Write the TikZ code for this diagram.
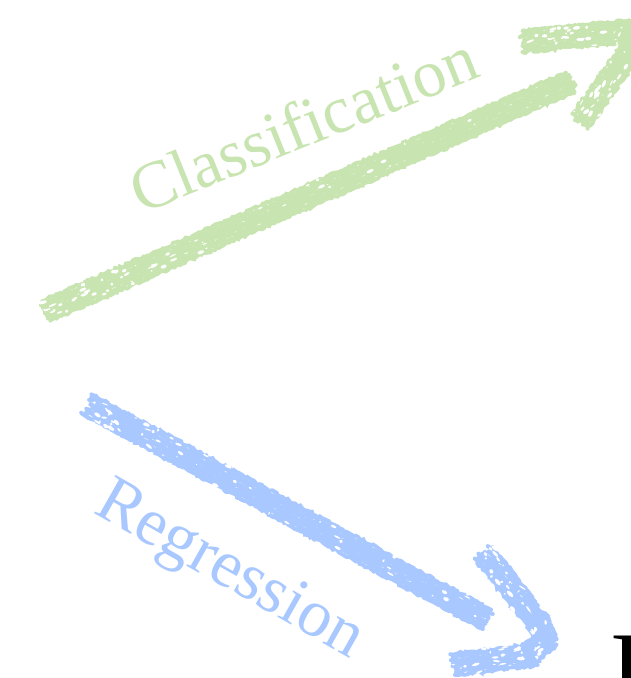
\documentclass[tikz,border=0pt]{standalone}
\usepackage{fontspec}
\setmainfont{Liberation Serif}
\usetikzlibrary{decorations.pathmorphing}
\definecolor{chalkgreen}{RGB}{200,228,176}
\definecolor{chalkblue}{RGB}{168,200,255}
\tikzset{
  chalkline/.style={line width=4pt, line cap=round,
    decorate, decoration={random steps, segment length=2.5pt, amplitude=1.3pt}},
  labeltext/.style={font=\fontsize{67}{70}\selectfont, inner sep=0pt, outer sep=0pt},
}
% #1 x1, #2 y1, #3 x2, #4 y2, #5 colour, #6 extension at start, #7 extension at end
\newcommand\chalkseg[7]{%
  \pgfmathsetmacro\csang{atan2(-(#4-#2),#3-#1)}%
  \pgfmathsetmacro\cslen{veclen(#3-#1,#4-#2)}%
  \begin{scope}[shift={(#1,#2)}, rotate=\csang]
    \foreach \k in {-11,-8,...,11}{
      \pgfmathsetmacro\xa{-#6+rnd*5-2.5}
      \pgfmathsetmacro\xb{\cslen+#7+rnd*5-2.5}
      \draw[#5, chalkline] (\xa,\k) -- (\xb,\k);
    }
    \pgfmathtruncatemacro\nspk{\cslen/2.4}
    \foreach \i in {1,...,\nspk}{
      \fill[white, rotate around={rnd*40-20:(0,0)}] (rnd*\cslen, rnd*24-12) ellipse [x radius={0.6+rnd*3.6}, y radius={0.5+rnd*1.4}];
    }
  \end{scope}}
\begin{document}
\begin{tikzpicture}[x=1pt, y=-1pt]
  \pgfmathsetseed{7}
  \useasboundingbox (0,0) rectangle (631,678);
  \clip (0,0) rectangle (631,678);
  % green arrow (Classification)
  \chalkseg{45}{312}{572}{82}{chalkgreen}{0}{0}
  \chalkseg{522}{42}{645}{30}{chalkgreen}{0}{0}
  \chalkseg{580}{122}{645}{32}{chalkgreen}{0}{0}
  % blue arrow (Regression)
  \chalkseg{88}{405}{487}{620}{chalkblue}{0}{0}
  \chalkseg{483}{553}{537}{622}{chalkblue}{0}{6}
  \chalkseg{537}{622}{545}{640}{chalkblue}{6}{6}
  \chalkseg{545}{640}{528}{655}{chalkblue}{6}{6}
  \chalkseg{528}{655}{453}{664}{chalkblue}{6}{0}
  % labels
  \node[labeltext, text=chalkgreen, anchor=base west, rotate=22] (cls) at (141,214) {Classification};
  \node[labeltext, text=chalkblue, anchor=base west, rotate=-29.5] (reg) at (92,512) {Regression};
  \node[font=\fontsize{100}{110}\selectfont, inner sep=0pt, anchor=base west] (cut) at (610,701) {I};
\end{tikzpicture}
\end{document}
